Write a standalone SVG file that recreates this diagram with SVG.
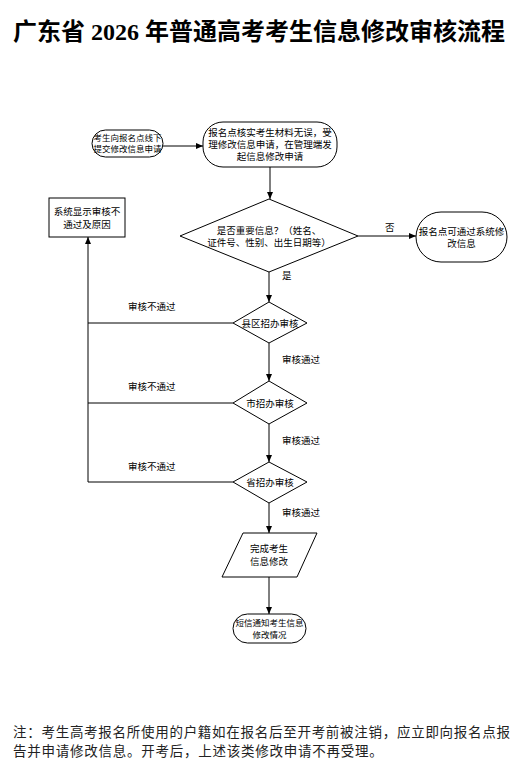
<svg xmlns="http://www.w3.org/2000/svg" width="520" height="769" viewBox="0 0 520 769">
<style>
.s{fill:#fff;stroke:#000;stroke-width:1}
.t{font-family:"Liberation Sans","Noto Sans CJK SC",sans-serif;font-size:9.5px;fill:#000;text-anchor:middle}
.sm{font-size:8.5px}
.l{font-family:"Liberation Sans","Noto Sans CJK SC",sans-serif;font-size:9.5px;fill:#000}
.c{fill:none;stroke:#000;stroke-width:1}
</style>
<defs>
<marker id="a" markerWidth="8" markerHeight="8" refX="7" refY="4" orient="auto" markerUnits="userSpaceOnUse">
<path d="M0,1 L7,4 L0,7 Z" fill="#000"/>
</marker>
</defs>
<rect width="520" height="769" fill="#fff"/>
<text x="13" y="40" textLength="492" lengthAdjust="spacingAndGlyphs" font-family="'Liberation Serif','Noto Sans CJK SC',serif" font-weight="bold" font-size="24" fill="#000">广东省 2026 年普通高考考生信息修改审核流程</text>

<g id="connectors">
<path class="c" d="M163,146 H203" marker-end="url(#a)"/>
<path class="c" d="M270,167 V199" marker-end="url(#a)"/>
<path class="c" d="M358,236 H416" marker-end="url(#a)"/>
<path class="c" d="M269,272 V302" marker-end="url(#a)"/>
<path class="c" d="M269,343 V381" marker-end="url(#a)"/>
<path class="c" d="M269,424 V462" marker-end="url(#a)"/>
<path class="c" d="M269,503 V533" marker-end="url(#a)"/>
<path class="c" d="M269,577 V614" marker-end="url(#a)"/>
<path class="c" d="M233,323 H88"/>
<path class="c" d="M233,403 H88"/>
<path class="c" d="M233,482 H88 V237" marker-end="url(#a)"/>
<text class="l" x="385" y="231">否</text>
<text class="l" x="282" y="279">是</text>
<text class="l" x="128" y="310">审核不通过</text>
<text class="l" x="128" y="390">审核不通过</text>
<text class="l" x="128" y="470">审核不通过</text>
<text class="l" x="282" y="363">审核通过</text>
<text class="l" x="282" y="444">审核通过</text>
<text class="l" x="282" y="516">审核通过</text>
</g>

<g id="n1">
<rect class="s" x="92" y="130" width="71" height="27" rx="13.5"/>
<text class="t sm" x="127.5" y="141">考生向报名点线下</text>
<text class="t sm" x="127.5" y="152">提交修改信息申请</text>
</g>
<g id="n2">
<rect class="s" x="203" y="122" width="134" height="45" rx="20"/>
<text class="t" x="270" y="136">报名点核实考生材料无误，受</text>
<text class="t" x="270" y="148">理修改信息申请，在管理端发</text>
<text class="t" x="270" y="160">起信息修改申请</text>
</g>
<g id="n3">
<polygon class="s" points="269,199 358,236 269,272 180,236"/>
<text class="t" x="269" y="234">是否重要信息？（姓名、</text>
<text class="t" x="269" y="246">证件号、性别、出生日期等）</text>
</g>
<g id="n4">
<rect class="s" x="416" y="212" width="91" height="50" rx="25"/>
<text class="t" x="461.5" y="235">报名点可通过系统修</text>
<text class="t" x="461.5" y="247">改信息</text>
</g>
<g id="n5">
<rect class="s" x="49" y="198" width="76" height="39"/>
<text class="t" x="87" y="215">系统显示审核不</text>
<text class="t" x="87" y="228">通过及原因</text>
</g>
<g id="n6">
<polygon class="s" points="269,302 307,323 269,343 233,323"/>
<text class="t" x="270" y="326.5">县区招办审核</text>
</g>
<g id="n7">
<polygon class="s" points="269,381 307,403 269,424 233,403"/>
<text class="t" x="270" y="406.5">市招办审核</text>
</g>
<g id="n8">
<polygon class="s" points="269,462 307,482 269,503 233,482"/>
<text class="t" x="270" y="485.5">省招办审核</text>
</g>
<g id="n9">
<polygon class="s" points="243,533 317,533 297,577 222,577"/>
<text class="t" x="269" y="552">完成考生</text>
<text class="t" x="269" y="565">信息修改</text>
</g>
<g id="n10">
<rect class="s" x="233" y="614" width="73" height="29" rx="14.5"/>
<text class="t sm" x="269.5" y="626">短信通知考生信息</text>
<text class="t sm" x="269.5" y="638">修改情况</text>
</g>

<g font-family="'Liberation Serif','Noto Sans CJK SC',serif" font-size="13.5" fill="#222">
<text x="13" y="737" textLength="497" lengthAdjust="spacing">注：考生高考报名所使用的户籍如在报名后至开考前被注销，应立即向报名点报</text>
<text x="13" y="756" letter-spacing="0.75">告并申请修改信息。开考后，上述该类修改申请不再受理。</text>
</g>
</svg>
